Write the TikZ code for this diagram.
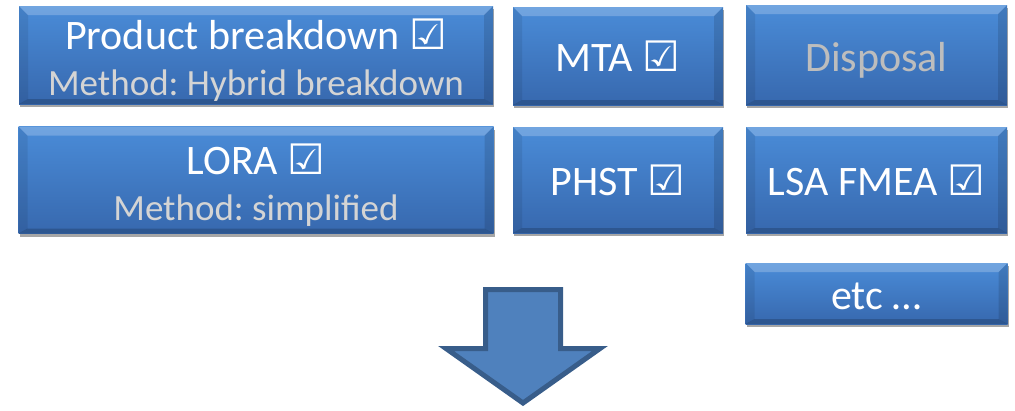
\documentclass[tikz,border=0pt]{standalone}
\usepackage{fontspec}
\setmainfont{Carlito}
\newfontfamily\symfont{DejaVu Sans}
\usetikzlibrary{shadows}
\frenchspacing
\definecolor{boxtop}{HTML}{4A8CD8}
\definecolor{boxbot}{HTML}{3768AE}
\definecolor{subtxt}{HTML}{D4D4D4}
\definecolor{dimtxt}{HTML}{BDBDBD}
\definecolor{arrfill}{HTML}{4F81BD}
\definecolor{arrline}{HTML}{385D8A}
\newcommand{\chk}{{\symfont\char"2611}}
\newcommand{\hstrut}[1]{\rule{0pt}{#1}}
\tikzset{
  bluebox/.style={rectangle, inner sep=0pt, align=center, text=white,
    top color=boxtop, bottom color=boxbot, draw=none,
    font=\fontsize{42}{46}\selectfont,
    drop shadow={shadow xshift=1pt, shadow yshift=-3pt, opacity=0.35, fill=black},
    path picture={
      \fill[white,opacity=0.22] (path picture bounding box.north west) -- (path picture bounding box.north east)
        -- ([xshift=-9pt,yshift=-9pt]path picture bounding box.north east) -- ([xshift=9pt,yshift=-9pt]path picture bounding box.north west) -- cycle;
      \fill[black,opacity=0.18] (path picture bounding box.south west) -- (path picture bounding box.south east)
        -- ([xshift=-9pt,yshift=5pt]path picture bounding box.south east) -- ([xshift=9pt,yshift=5pt]path picture bounding box.south west) -- cycle;
      \fill[black,opacity=0.08] (path picture bounding box.north west) -- ([xshift=9pt,yshift=-9pt]path picture bounding box.north west)
        -- ([xshift=9pt,yshift=5pt]path picture bounding box.south west) -- (path picture bounding box.south west) -- cycle;
      \fill[black,opacity=0.12] (path picture bounding box.north east) -- ([xshift=-9pt,yshift=-9pt]path picture bounding box.north east)
        -- ([xshift=-9pt,yshift=5pt]path picture bounding box.south east) -- (path picture bounding box.south east) -- cycle;
    }},
}
\newcommand{\sub}[1]{{\fontsize{37}{46}\selectfont\color{subtxt}#1}}
\begin{document}
\begin{tikzpicture}[x=1pt,y=-1pt]
\useasboundingbox (0,0) rectangle (1015,410);
\node[bluebox, minimum width=474pt, minimum height=98pt] (pb) at (256,55)
  {\hstrut{41pt}Product breakdown \chk\\\sub{Method: Hybrid breakdown}};
\node[bluebox, minimum width=210pt, minimum height=98pt] (mta) at (618,56) {MTA \chk};
\node[bluebox, minimum width=261pt, minimum height=100pt] (disp) at (876.5,55) {\hstrut{39pt}\textcolor{dimtxt}{Disposal}};
\node[bluebox, minimum width=475pt, minimum height=107pt] (lora) at (256,180)
  {\hstrut{41pt}LORA \chk\\\sub{Method: simplified}};
\node[bluebox, minimum width=210pt, minimum height=106pt] (phst) at (618,180) {PHST \chk};
\node[bluebox, minimum width=261pt, minimum height=106pt] (lsa) at (876.5,180) {LSA FMEA \chk};
\node[bluebox, minimum width=262pt, minimum height=61pt] (etc) at (876.5,293.5) {\hstrut{33pt}etc …};
\draw[line width=5pt, draw=arrline, fill=arrfill, line join=miter]
  (485.5,289.5) -- (560.5,289.5) -- (560.5,348.5) -- (600,348.5) -- (523,403) -- (446,348.5) -- (485.5,348.5) -- cycle;
\end{tikzpicture}
\end{document}
